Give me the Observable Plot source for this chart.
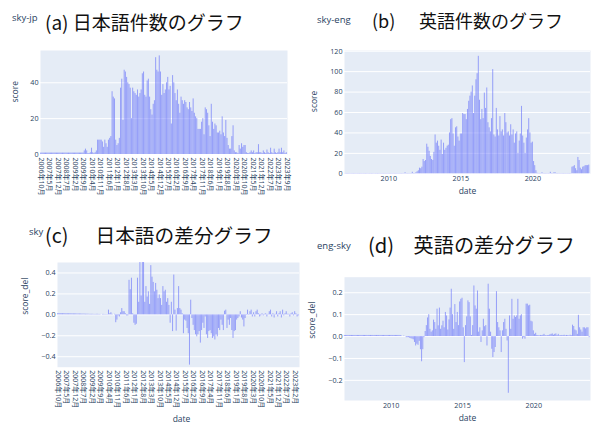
<!DOCTYPE html>
<html><head><meta charset="utf-8">
<script src="https://cdn.jsdelivr.net/npm/d3@7"></script>
<script src="https://cdn.jsdelivr.net/npm/@observablehq/plot@0.6"></script>
<style>
body{margin:0;background:#fff;}
#root{position:relative;width:597px;height:426px;overflow:hidden;background:#fff;}
.panel{position:absolute;}
.sub{position:absolute;color:#2a3f5f;font-family:"Open Sans",sans-serif;white-space:nowrap;line-height:1;}
.ttl{position:absolute;color:#111;font-family:"Noto Sans CJK JP",sans-serif;white-space:nowrap;line-height:1;}
</style></head><body><div id="root"></div>
<script>
// ---------- data ----------
// (a) Japanese monthly counts, categorical months 2006年10月 .. 2023年9月
const aStart = [2006, 10];
const aVals = [
0.8,0.8,0.8,0.8,0.8,0.8,0.8,0.8,0.8,0.8,
0.8,0.8,0.8,0.8,0.8,0.8,0.8,0.8,0.8,0.8,
0.8,0.8,0.8,0.8,0.8,0.8,0.8,0.8,0.8,0.8,
0.8,0.8,0.8,0.8,0.8,0.8,
2,3,2,0.5,0.5,1,3.5,1,0.5,1,
2,8,8,8,8,7,4,8,6,4,
8,9,10,35,32,31,8,5,6,9,
37,42,19,47,46,43,40,39,37,20,
37,35,34,33,36,32,34,36,45,46,
33,32,41,42,32,25,22,28,30,54,
47,46,55,46,33,39,34,36,40,43,
36,38,17,44,40,34,30,36,28,23,
32,30,28,30,29,26,25,29,26,24,
31,23,21,20,14,14,14,18,20,11,
26,25,23,16,10,28,18,14,17,16,
12,12,13,11,21,12,10,19,9,5,
3,3,10,16,2,1,1,0.5,5,3,
6,4,5,5,1,0.5,0.5,1,2,1,
2,0.5,1,1,5.5,1,1,0.5,2,1,
0.5,2.5,1,0.5,3.5,1,0.5,3,1,0.5,
1,3,1,3.5,1,2,0.5,1
];
const aTicks = ["2006年10月","2007年5月","2007年12月","2008年7月","2009年2月","2009年9月","2010年4月","2010年11月","2011年6月","2012年1月","2012年8月","2013年3月","2013年10月","2014年5月","2014年12月","2015年7月","2016年2月","2016年9月","2017年4月","2017年11月","2018年6月","2019年1月","2019年8月","2020年3月","2020年10月","2021年5月","2021年12月","2022年7月","2023年2月","2023年9月"];

// (b) English monthly counts, dates 2007-01 .. 2023-12
const bStart = "2007-01-01";
const bVals = [
0.3,0.3,0.3,0.3,0.3,0.3,0.3,0.3,0.3,0.3,
0.3,0.3,0.3,0.3,0.3,0.3,0.3,0.3,0.3,0.3,
0.3,0.3,0.3,0.3,0.3,0.3,0.3,0.3,0.3,0.3,
0.3,0.3,0.3,0.3,0.3,0.3,0.3,0.3,0.3,0.3,
0.3,0.3,0.3,0.3,0.3,0.3,0.3,0.3,0.3,0.3,
1,0.3,0.3,0.3,0.3,0.3,1.5,0.3,0.3,
1,2,3,5.5,5,6.5,14,12,13,29,
26,22,17,14,13,21,38,30,32,27,
23,33,19,30,23,25,27,28,40,53,
54,39,27,45,46,36,32,39,39,59,
58,58,53,63,71,76,80,86,59,76,
92,98,115,72,53,63,54,79,64,84,
50,45,41,54,102,38,36,64,43,37,
56,41,43,37,59,50,40,41,37,48,
38,43,30,39,41,20,32,39,66,37,
30,20,35,43,54,40,30,31,12,8,
3,0.5,0.3,0.3,0.3,1,0.3,0.3,0.3,0.3,
0.3,0.3,1.5,0.3,0.3,1,1,0.3,0.3,0.3,
0.3,0.3,0.3,0.3,0.3,0.3,0.3,0.3,0.3,0.3,
6.5,7,8,5,3,16,13,5.5,4,6.5,
7,8,8,8,8.5
];
const bTicks = ["2010-01-01","2015-01-01","2020-01-01"];

// (c) Japanese difference, categorical months 2006年10月 .. 2023年5月
const cStart = [2006, 10];
const cVals = [
0.012,0.012,0.012,0.011,0.011,0.011,0.011,0.01,0.01,0.01,
0.01,0.01,0.009,0.009,0.009,0.009,0.008,0.008,0.008,0.008,
0.007,0.007,0.007,0.006,0.006,0.006,0.005,0.005,0.005,0.005,
0.004,0.004,0.005,0.005,0.004,0.004,0,0.004,0.004,0.003,
0.003,0.003,
0.045,0.01,0.02,0.005,0,0.005,-0.075,-0.05,-0.01,-0.02,
0.02,0.06,0.03,0.03,0.01,-0.01,-0.01,0.33,0.24,0.35,
0.01,-0.08,-0.1,-0.09,0.35,0.12,0.55,0.18,0.55,0.55,
0.12,0.27,0.17,0.22,0.1,0.47,0.36,0.31,0.22,0.3,
0.235,0.155,0.19,0.155,0.09,0.27,0.22,0.235,0.12,0.155,
0.09,-0.08,0.12,-0.16,0.38,0.045,-0.155,0.06,0.27,0.06,
0.045,0.01,-0.18,-0.05,-0.06,-0.13,-0.18,-0.48,0.14,-0.035,
-0.1,-0.15,-0.19,-0.21,-0.19,-0.16,-0.27,-0.15,-0.08,-0.13,
-0.02,-0.19,-0.225,-0.16,-0.15,-0.18,-0.225,-0.21,-0.24,-0.19,
-0.21,-0.13,-0.15,-0.05,-0.1,-0.15,0.035,0.045,-0.13,-0.05,
-0.1,-0.035,-0.15,-0.225,-0.16,-0.15,-0.05,-0.035,-0.02,0.03,
-0.03,-0.05,-0.115,-0.035,-0.005,0.045,-0.005,0.03,0.045,-0.02,
0.02,-0.02,0.03,0.045,0.01,-0.02,-0.01,0.01,-0.01,0.005,
0.01,-0.02,0.005,0.03,0.045,-0.02,0.01,-0.03,0.005,0.03,
-0.02,0.01,0.03,-0.03,0.045,-0.01,0.01,0.03,0.005,0.005,
-0.02,0.01,0.02,-0.01,0.03,0.01,-0.02,-0.01
];
const cTicks = aTicks.slice(0, 29);

// (d) English difference, dates 2006-10 .. 2023-12
const dStart = "2006-10-01";
const dVals = [
0.005,0.005,0.005,0.005,0.005,0.005,0.005,0.005,0.005,0.005,
0.005,0.005,0.005,0.005,0.005,0.005,0.005,0.005,0.005,0.005,
0.005,0.005,0.005,0.005,0.005,0.005,0.005,0.005,0.005,0.005,
0.005,0.005,0.005,0.005,0.005,0.005,0.005,0.005,0.005,0.005,
0.005,0.005,0.005,0.005,0.005,0.005,0.005,0.005,
0.002,0,0.002,0,
-0.005,-0.005,-0.005,-0.008,-0.01,-0.012,-0.015,-0.027,-0.043,-0.035,-0.04,-0.022,-0.06,-0.115,-0.06,-0.005,
0.023,0.05,0.085,0.1,0.033,0.02,0.026,0.075,0.064,0.033,
0.125,0.049,0.13,0.033,0.049,0.07,0.04,0.11,0.094,0.03,
0.076,0.13,0.216,0.1,0.033,0.146,0.064,0.11,0.05,0.158,
0.17,0.175,0.04,-0.119,0.05,0.09,0.163,0.155,0.09,0.005,
0.05,0.231,0.14,0.125,0.208,0.02,0.04,-0.027,0.026,0.079,
0.045,0.05,-0.043,0.239,0.125,0.02,-0.058,-0.096,-0.073,-0.05,
0.205,0.064,0.04,0.026,-0.073,0.026,0.064,0.079,0.033,-0.02,
-0.259,0.094,0.033,0.17,0.079,0.094,0.087,0.094,0.17,0.079,
0.094,0.1,-0.012,-0.005,-0.012,0.148,0.148,0.14,0.143,0.07,
0.067,0.026,0.01,0.015,
0.005,0.004,0.003,0.005,0.004,0.006,0.01,0.004,0.003,0.004,
0.005,0.008,0.01,0.012,0.006,0.01,0.012,0.004,0.01,0.003,
0.004,0.005,0.004,0.006,0.003,0.005,0.004,0.003,0.006,0.004,
0.052,0.046,0.03,0.026,0.01,0.097,0.04,0.03,0.02,0.04,
0.04,0.035,0.04,0.04,-0.005
];

// ---------- helpers ----------
const BG = "#E5ECF6", BAR = "#636efa", TXT = "#2a3f5f";
const FONT = "'Open Sans','Noto Sans CJK JP',sans-serif";
const root = document.getElementById("root");
function monthLabels([y, m], n) {
  const out = [];
  for (let i = 0; i < n; i++) { const t = (m - 1) + i; out.push(`${y + Math.floor(t / 12)}年${(t % 12) + 1}月`); }
  return out;
}
function monthRows(start, vals) {
  const s = new Date(start + "T00:00:00Z");
  return vals.map((v, i) => { const d = d3.utcMonth.offset(s, i); return {x1: d3.utcDay.offset(d, -13), x2: d3.utcDay.offset(d, 13), v}; });
}
function place(el, left, top) {
  const d = document.createElement("div"); d.className = "panel";
  d.style.left = left + "px"; d.style.top = top + "px"; d.appendChild(el); root.appendChild(d);
}
function addText(cls, txt, left, top, size) {
  const d = document.createElement("div"); d.className = cls; d.textContent = txt;
  d.style.left = left + "px"; d.style.top = top + "px"; d.style.fontSize = size + "px"; root.appendChild(d);
}
const style = {fontFamily: FONT, fontSize: "7px", color: TXT, background: "transparent", overflow: "visible"};
const yTitle = (t, dx) => Plot.text([t], {text: d => d, frameAnchor: "left", dx, rotate: -90, fontSize: 8.5, fill: TXT});
const xTitle = (t, dy, dx = 0) => Plot.text([t], {text: d => d, frameAnchor: "bottom", dy, dx, fontSize: 8.5, fill: TXT});

// ---------- (a) ----------
const aCats = monthLabels(aStart, aVals.length);
const aData = aCats.map((c, i) => ({c, v: aVals[i]}));
place(Plot.plot({
  width: 300, height: 170, marginLeft: 40, marginRight: 13, marginTop: 10, marginBottom: 56, style,
  x: {type: "band", domain: aCats, padding: 0.15},
  y: {domain: [0, 58]},
  marks: [
    Plot.frame({fill: BG, stroke: null}),
    Plot.gridY([0, 20, 40], {stroke: "white", strokeOpacity: 1}),
    Plot.barY(aData, {x: "c", y: "v", fill: BAR, fillOpacity: 0.6}),
    Plot.axisX(aTicks, {tickRotate: 90, tickSize: 0, tickPadding: 3, fontSize: 7, label: null}),
    Plot.axisY([0, 20, 40], {tickSize: 0, tickPadding: 2, fontSize: 7.2, label: null}),
    yTitle("score", -25)
  ]
}), 0, 40);

// ---------- (b) ----------
place(Plot.plot({
  width: 297, height: 170, marginLeft: 44, marginRight: 7, marginTop: 10, marginBottom: 36.7, style,
  x: {type: "utc", domain: [new Date("2006-12-04T00:00:00Z"), new Date("2024-01-02T00:00:00Z")]},
  y: {domain: [0, 120.7]},
  marks: [
    Plot.frame({fill: BG, stroke: null}),
    Plot.gridY([0, 20, 40, 60, 80, 100, 120], {stroke: "white", strokeOpacity: 1}),
    Plot.rectY(monthRows(bStart, bVals), {x1: "x1", x2: "x2", y: "v", fill: BAR, fillOpacity: 0.6}),
    Plot.axisX(bTicks.map(s => new Date(s + "T00:00:00Z")), {tickFormat: "%Y", tickSize: 0, tickPadding: 2, fontSize: 7.2, label: null}),
    Plot.axisY([0, 20, 40, 60, 80, 100, 120], {tickSize: 0, tickPadding: 2, fontSize: 7.2, label: null}),
    yTitle("score", -30),
    xTitle("date", 19.7)
  ]
}), 300, 40);

// ---------- (c) ----------
const cCats = monthLabels(cStart, cVals.length);
const cData = cCats.map((c, i) => ({c, v: cVals[i]}));
place(Plot.plot({
  width: 300, height: 176, marginLeft: 57, marginRight: 1, marginTop: 12, marginBottom: 59.3, style,
  x: {type: "band", domain: cCats, padding: 0.15},
  y: {domain: [-0.5, 0.5]},
  marks: [
    Plot.frame({fill: BG, stroke: null}),
    Plot.gridY([-0.4, -0.2, 0, 0.2, 0.4], {stroke: "white", strokeOpacity: 1}),
    Plot.barY(cData, {x: "c", y: "v", fill: BAR, fillOpacity: 0.6, clip: true}),
    Plot.axisX(cTicks, {tickRotate: 90, tickSize: 0, tickPadding: 3, fontSize: 7, label: null}),
    Plot.axisY([-0.4, -0.2, 0, 0.2, 0.4], {tickSize: 0, tickPadding: 2, fontSize: 7.2, label: null}),
    yTitle("score_del", -32),
    xTitle("date", 54.3, 3)
  ]
}), 0, 250);

// ---------- (d) ----------
place(Plot.plot({
  width: 297, height: 166, marginLeft: 44, marginRight: 7, marginTop: 16.7, marginBottom: 26, style,
  x: {type: "utc", domain: [new Date("2006-09-22T00:00:00Z"), new Date("2023-12-23T00:00:00Z")]},
  y: {domain: [-0.292, 0.271]},
  marks: [
    Plot.frame({fill: BG, stroke: null}),
    Plot.gridY([-0.2, -0.1, 0, 0.1, 0.2], {stroke: "white", strokeOpacity: 1}),
    Plot.rectY(monthRows(dStart, dVals), {x1: "x1", x2: "x2", y: "v", fill: BAR, fillOpacity: 0.6}),
    Plot.axisX(bTicks.map(s => new Date(s + "T00:00:00Z")), {tickFormat: "%Y", tickSize: 0, tickPadding: 2, fontSize: 7.2, label: null}),
    Plot.axisY([-0.2, -0.1, 0, 0.1, 0.2], {tickSize: 0, tickPadding: 2, fontSize: 7.2, label: null}),
    yTitle("score_del", -32),
    xTitle("date", 20)
  ]
}), 300, 260);

// ---------- titles ----------
addText("sub", "sky-jp", 12, 13, 9.5);
addText("ttl", "(a) 日本語件数のグラフ", 45, 11.5, 19);
addText("sub", "sky-eng", 317, 14.5, 9.5);
addText("ttl", "(b)", 372, 10.5, 18);
addText("ttl", "英語件数のグラフ", 419, 10.5, 18);
addText("sub", "sky", 29, 227, 9.5);
addText("ttl", "(c)", 45, 225, 19.7);
addText("ttl", "日本語の差分グラフ", 95.5, 225, 19.7);
addText("sub", "eng-sky", 317, 241, 9.5);
addText("ttl", "(d)", 368, 235, 20.2);
addText("ttl", "英語の差分グラフ", 413.5, 235, 20.2);
</script></body></html>
